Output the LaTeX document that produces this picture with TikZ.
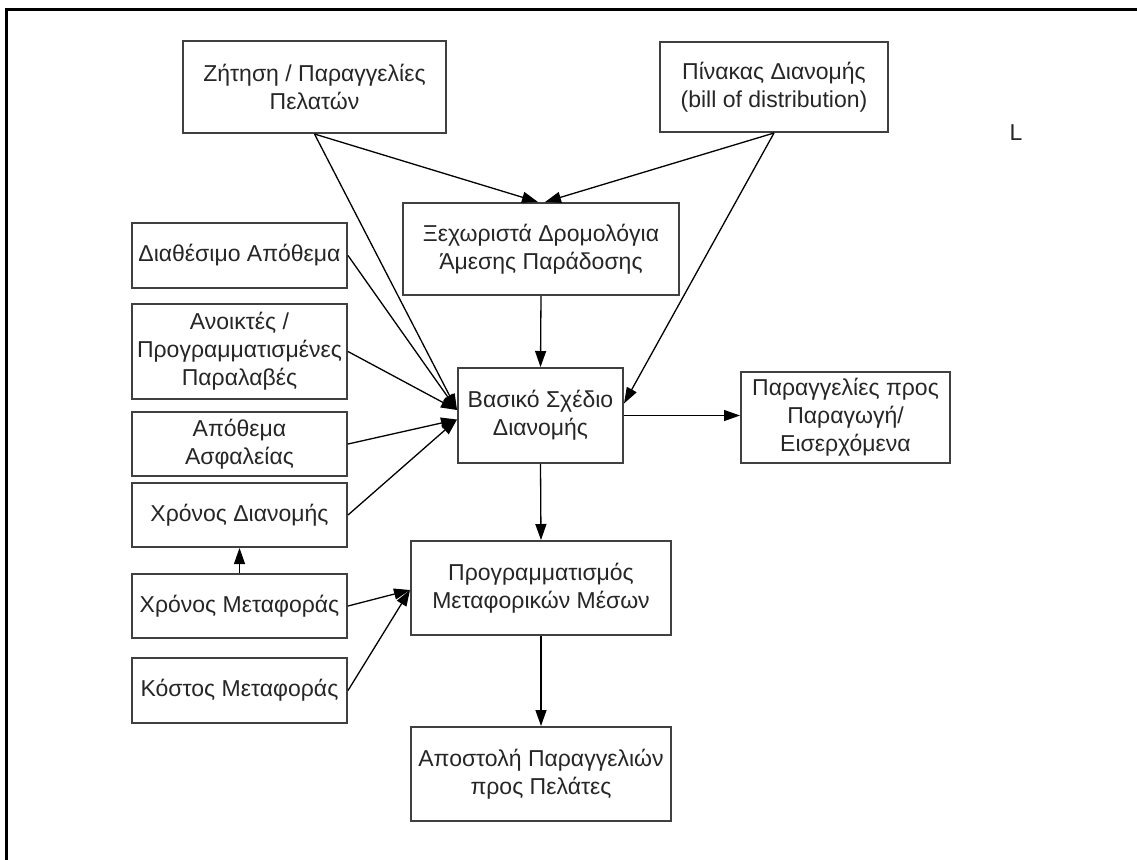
\documentclass[tikz,border=0pt]{standalone}
\usepackage{fontspec}
\setmainfont{Liberation Sans}
\usetikzlibrary{arrows.meta,calc}
\definecolor{boxgray}{HTML}{404040}
\definecolor{textgray}{HTML}{262626}
\tikzset{
  box/.style={draw=boxgray, line width=1pt, fill=white, inner sep=0pt,
    align=center, text=textgray, font=\fontsize{11.5}{14}\selectfont},
  link/.style={draw=black, line width=0.65pt, -{Triangle[length=8pt,width=5.5pt]}},
  frameline/.style={draw=black, line width=1.5pt}
}
\begin{document}
\begin{tikzpicture}[x=0.5pt,y=-0.5pt]
\useasboundingbox (0,0) rectangle (1137,859);

% page frame (top and left edges)
\coordinate (fbl) at (6,860);
\coordinate (ftl) at (6,9);
\coordinate (ftr) at (1138,9);
\draw[frameline] (fbl) -- (ftl) -- (ftr);

% top inputs
\node[box, minimum width=131.5pt, minimum height=46pt] (zit) at (314.5,87) {Ζήτηση / Παραγγελίες\\Πελατών};
\node[box, minimum width=114pt, minimum height=45pt] (pin) at (774,87) {Πίνακας Διανομής\\(bill of distribution)};
\node[box, minimum width=138pt, minimum height=46pt] (xex) at (541,249) {Ξεχωριστά Δρομολόγια\\Άμεσης Παράδοσης};

% left column of inputs
\node[box, minimum width=107.5pt, minimum height=32.5pt] (dia) at (239.5,255.5) {Διαθέσιμο Απόθεμα};
\node[box, minimum width=107.5pt, minimum height=47.5pt] (ano) at (239.5,351.5) {Ανοικτές /\\Προγραμματισμένες\\Παραλαβές};
\node[box, minimum width=107.5pt, minimum height=32pt] (apo) at (239.5,444) {Απόθεμα\\Ασφαλείας};
\node[box, minimum width=107.5pt, minimum height=32pt] (xdi) at (239.5,515) {Χρόνος Διανομής};
\node[box, minimum width=107.5pt, minimum height=32pt] (xme) at (239.5,606) {Χρόνος Μεταφοράς};
\node[box, minimum width=107.5pt, minimum height=32.5pt] (kme) at (239.5,690.5) {Κόστος Μεταφοράς};

% central chain
\node[box, minimum width=82.5pt, minimum height=47.5pt] (bas) at (540.5,415.5) {Βασικό Σχέδιο\\Διανομής};
\node[box, minimum width=104.5pt, minimum height=45.5pt] (par) at (845.5,417.5) {Παραγγελίες προς\\Παραγωγή/\\Εισερχόμενα};
\node[box, minimum width=130pt, minimum height=47pt] (pro) at (541,588) {Προγραμματισμός\\Μεταφορικών Μέσων};
\node[box, minimum width=130pt, minimum height=47pt] (aps) at (541,774) {Αποστολή Παραγγελιών\\προς Πελάτες};

\node[text=textgray, font=\fontsize{11.5}{14}\selectfont, inner sep=0pt] (mk) at (1016,133) {L};

% connectors
\draw[link] (zit.south) -- ($(xex.north)+(-3,0)$);
\draw[link] (pin.south) -- ($(xex.north)+(4,0)$);
\draw[link] (zit.south) -- ($(bas.west)+(0,-5.5)$);
\draw[link] (dia.east) -- ($(bas.west)+(0,-5.5)$);
\draw[link] (ano.east) -- ($(bas.west)+(0,-5.5)$);
\draw[link] (apo.east) -- ($(bas.west)+(0,4)$);
\draw[link] (xdi.east) -- ($(bas.west)+(0,4)$);
\draw[link] (pin.south) -- ($(bas.east)+(0,-12)$);
\draw[link] (xex.south) -- (bas.north);
\draw[link] (bas.east) -- (bas.east -| par.west);
\draw[link] (bas.south) -- (pro.north);
\draw[link] (pro.south) -- (aps.north);
\draw[link] (xme.north) -- (xdi.south);
\draw[link] (xme.east) -- ($(pro.west)+(0,2)$);
\draw[link] (kme.east) -- ($(pro.west)+(0,2)$);
\end{tikzpicture}
\end{document}
